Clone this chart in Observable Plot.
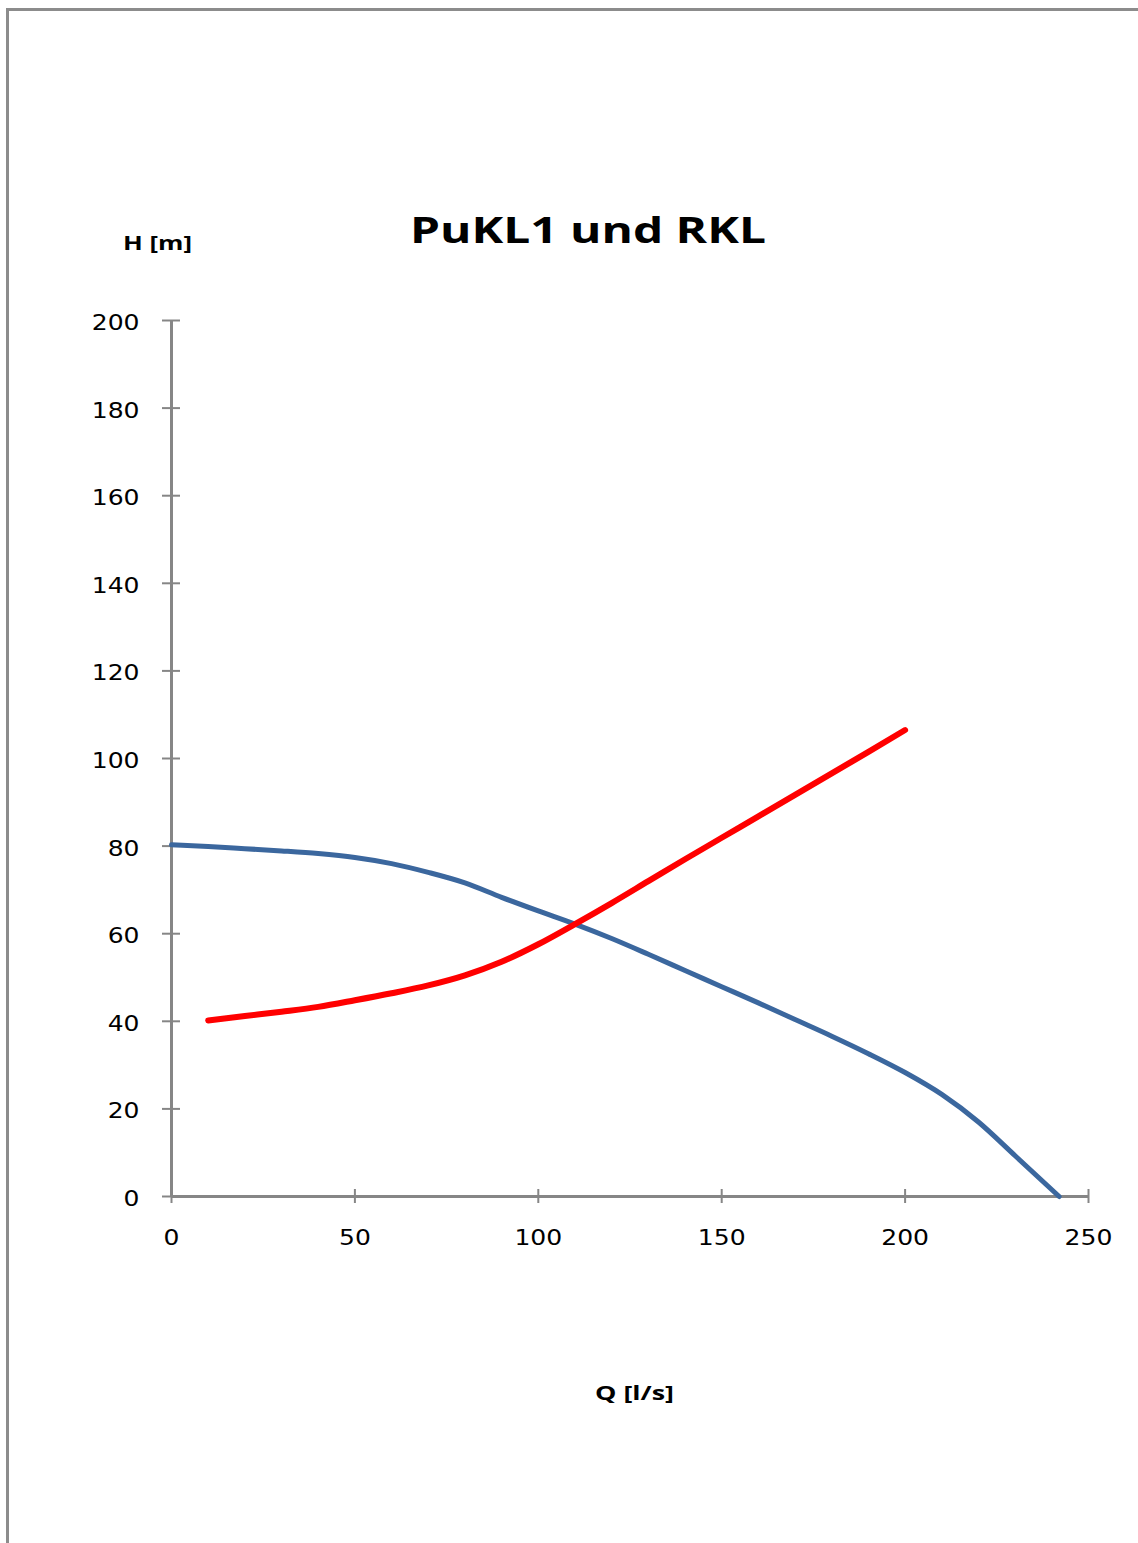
<!DOCTYPE html>
<html>
<head>
<meta charset="utf-8">
<script src="https://cdn.jsdelivr.net/npm/d3@7"></script>
<script src="https://cdn.jsdelivr.net/npm/@observablehq/plot@0.6"></script>
<style>
  html, body { margin: 0; padding: 0; background: #fff; }
  #wrap { position: relative; width: 1138px; height: 1543px; overflow: hidden; }
  #frame { position: absolute; left: 6px; top: 8px; right: -10px; bottom: -10px;
           border-top: 3px solid #8c8c8c; border-left: 3px solid #8c8c8c; }
  .lbl { position: absolute; font-family: "Open Sans", sans-serif; font-weight: 700;
         line-height: 1; white-space: nowrap; transform-origin: 0 0; color: #000; }
  svg { position: absolute; left: 0; top: 0; }
</style>
</head>
<body>
<div id="wrap">
  <div id="frame"></div>
</div>
<script>
// Pump curve (PuKL1)
const pumpQ = [0, 10, 20, 30, 40, 50, 60, 70, 80, 90, 100, 110, 120, 130, 140, 150, 160, 170, 180, 190, 200, 210, 220, 230, 242];
const pumpH = [80.3, 79.9, 79.4, 78.9, 78.3, 77.4, 76.0, 74.0, 71.6, 68.3, 65.2, 62.2, 58.9, 55.3, 51.6, 47.9, 44.2, 40.4, 36.6, 32.6, 28.3, 23.3, 17.0, 9.3, 0];
// System curve (RKL)
const sysQ = [10, 20, 30, 40, 50, 60, 70, 80, 90, 100, 110, 120, 130, 140, 150, 160, 170, 180, 190, 200];
const sysH = [40.2, 41.2, 42.2, 43.3, 44.8, 46.4, 48.2, 50.5, 53.6, 57.6, 62.2, 67.0, 72.0, 77.0, 81.9, 86.8, 91.7, 96.6, 101.5, 106.5];

const xTicks = [0, 50, 100, 150, 200, 250];
const yTicks = [0, 20, 40, 60, 80, 100, 120, 140, 160, 180, 200];

const titleText = "PuKL1 und RKL";
const yLabelText = "H [m]";
const xLabelText = "Q [l/s]";

const pump = pumpQ.map((q, i) => ({q, h: pumpH[i]}));
const sys = sysQ.map((q, i) => ({q, h: sysH[i]}));

const axisGray = "#868686";

const chart = Plot.plot({
  width: 1138,
  height: 1543,
  marginLeft: 171,
  marginRight: 50,
  marginTop: 320,
  marginBottom: 347,
  style: {fontFamily: "DejaVu Sans", fontSize: "20.5px", color: "#000", background: "transparent"},
  x: {domain: [0, 250], axis: null},
  y: {domain: [0, 200], axis: null},
  marks: [
    Plot.axisY(yTicks, {tickSize: 18, dx: 9, tickFormat: () => "", label: null, stroke: axisGray, strokeWidth: 2}),
    Plot.axisY(yTicks, {tickSize: 0, tickPadding: 32, dy: 3, label: null, fill: "#000"}),
    Plot.axisX(xTicks, {tickSize: 14, dy: -7, tickFormat: () => "", label: null, stroke: axisGray, strokeWidth: 2}),
    Plot.axisX(xTicks, {tickSize: 0, tickPadding: 34, label: null, fill: "#000"}),
    Plot.ruleX([0], {stroke: axisGray, strokeWidth: 3}),
    Plot.ruleY([0], {stroke: axisGray, strokeWidth: 3}),
    Plot.line(pump, {x: "q", y: "h", stroke: "#3b679e", strokeWidth: 5, curve: "monotone-x"}),
    Plot.line(sys, {x: "q", y: "h", stroke: "#ff0000", strokeWidth: 6, curve: "monotone-x", strokeLinecap: "round"})
  ]
});

const wrap = document.getElementById("wrap");
wrap.appendChild(chart);

// Stretch tick label glyphs horizontally, as in the reference
chart.querySelectorAll('g[aria-label="y-axis tick label"] text, g[aria-label="x-axis tick label"] text').forEach(t => {
  const L = t.getComputedTextLength();
  if (L > 0) {
    t.setAttribute("textLength", (L * 1.22).toFixed(1));
    t.setAttribute("lengthAdjust", "spacingAndGlyphs");
  }
});

function addLabel(text, left, top, size, targetWidth) {
  const d = document.createElement("div");
  d.className = "lbl";
  d.textContent = text;
  d.style.left = left + "px";
  d.style.top = top + "px";
  d.style.fontSize = size + "px";
  wrap.appendChild(d);
  const w = d.getBoundingClientRect().width;
  d.style.transform = `scaleX(${targetWidth / w})`;
}
addLabel(titleText, 410, 212, 36, 356);
addLabel(yLabelText, 123, 234, 19, 69);
addLabel(xLabelText, 595, 1383, 20, 79);
</script>
</body>
</html>
